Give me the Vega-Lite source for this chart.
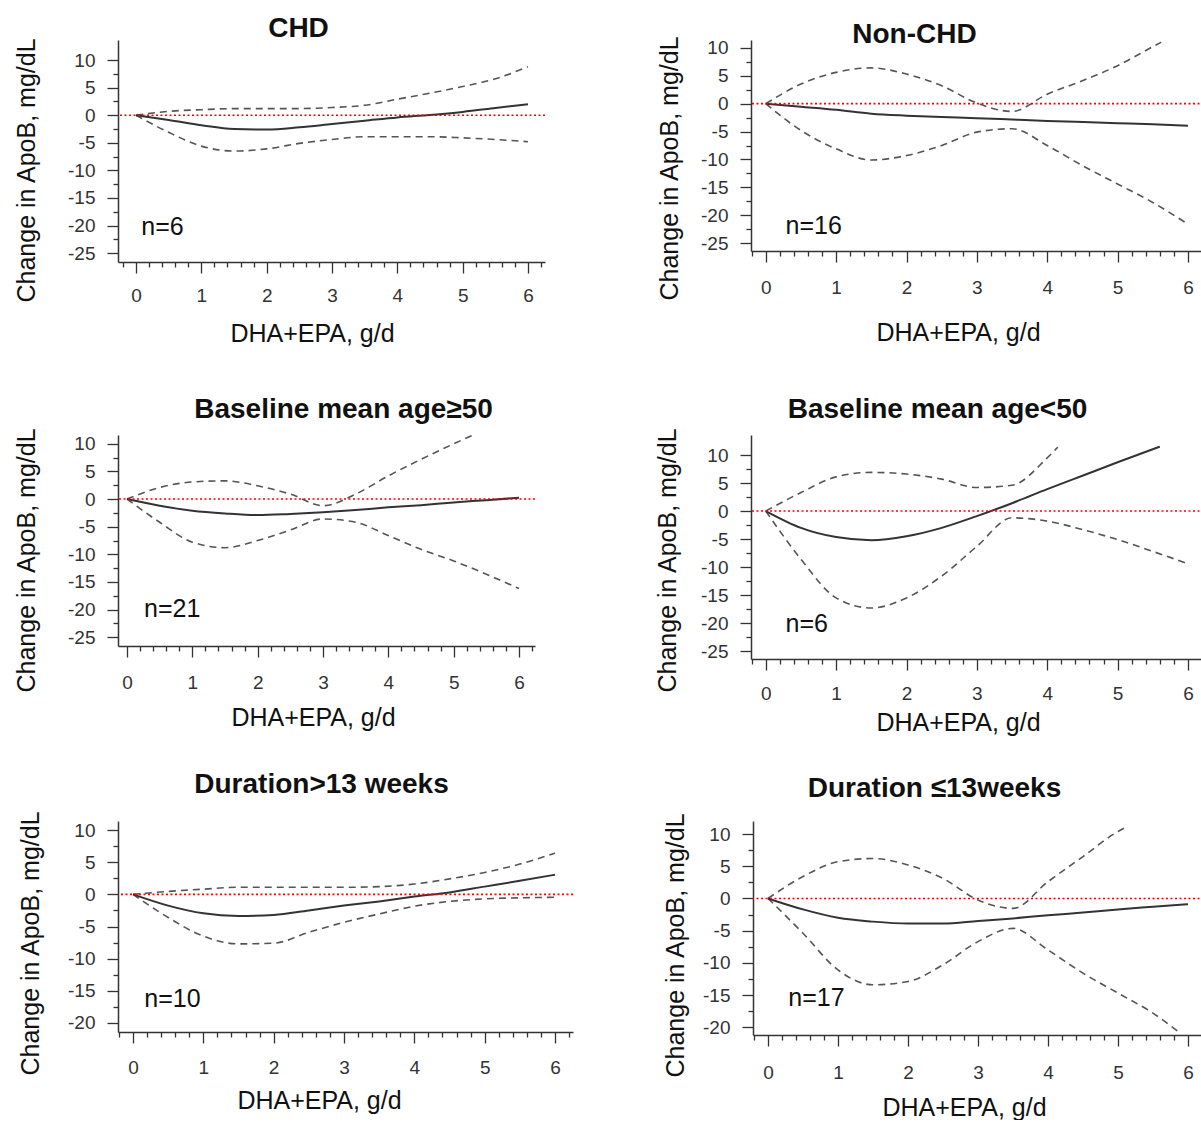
{
"$schema": "https://vega.github.io/schema/vega-lite/v6.json",
"background": "white",
"padding": {"left": 14, "top": 14, "right": 0, "bottom": 0},
"config": {
 "view": {"stroke": null},
 "font": "Liberation Sans",
 "axis": {"domainColor": "#333", "domainWidth": 1.5, "tickColor": "#333", "tickWidth": 1.3, "labelColor": "#333", "labelFontSize": 19, "labelFont": "Liberation Sans", "titleFont": "Liberation Sans", "titleFontSize": 25, "titleFontWeight": "normal", "titleColor": "#111", "grid": false, "labelOverlap": false, "labelFlush": false, "labelBound": false, "tickCount": 200},
 "title": {"font": "Liberation Sans", "fontSize": 28, "fontWeight": "bold", "color": "#111", "frame": "group", "anchor": "middle"}
},
"datasets": {"curves": [
{"p":"chd","s":"est","x":0,"v":0},{"p":"chd","s":"est","x":0.5,"v":-0.85},{"p":"chd","s":"est","x":1,"v":-1.8},{"p":"chd","s":"est","x":1.5,"v":-2.5},{"p":"chd","s":"est","x":2,"v":-2.6},{"p":"chd","s":"est","x":2.5,"v":-2.2},{"p":"chd","s":"est","x":3,"v":-1.6},{"p":"chd","s":"est","x":3.5,"v":-1.0},{"p":"chd","s":"est","x":4,"v":-0.4},{"p":"chd","s":"est","x":4.5,"v":0.05},{"p":"chd","s":"est","x":5,"v":0.6},{"p":"chd","s":"est","x":5.5,"v":1.3},{"p":"chd","s":"est","x":6,"v":2.0},
{"p":"chd","s":"hi","x":0,"v":0},{"p":"chd","s":"hi","x":0.5,"v":0.7},{"p":"chd","s":"hi","x":1,"v":1.0},{"p":"chd","s":"hi","x":1.5,"v":1.2},{"p":"chd","s":"hi","x":2,"v":1.2},{"p":"chd","s":"hi","x":2.5,"v":1.2},{"p":"chd","s":"hi","x":3,"v":1.4},{"p":"chd","s":"hi","x":3.5,"v":1.8},{"p":"chd","s":"hi","x":4,"v":2.9},{"p":"chd","s":"hi","x":4.5,"v":4.0},{"p":"chd","s":"hi","x":5,"v":5.2},{"p":"chd","s":"hi","x":5.5,"v":6.6},{"p":"chd","s":"hi","x":6,"v":8.8},
{"p":"chd","s":"lo","x":0,"v":0},{"p":"chd","s":"lo","x":0.5,"v":-3.1},{"p":"chd","s":"lo","x":1,"v":-5.6},{"p":"chd","s":"lo","x":1.5,"v":-6.5},{"p":"chd","s":"lo","x":2,"v":-6.1},{"p":"chd","s":"lo","x":2.5,"v":-5.1},{"p":"chd","s":"lo","x":3,"v":-4.4},{"p":"chd","s":"lo","x":3.5,"v":-3.9},{"p":"chd","s":"lo","x":4,"v":-3.9},{"p":"chd","s":"lo","x":4.5,"v":-3.9},{"p":"chd","s":"lo","x":5,"v":-4.1},{"p":"chd","s":"lo","x":5.5,"v":-4.4},{"p":"chd","s":"lo","x":6,"v":-4.8},
{"p":"nonchd","s":"est","x":0,"v":0},{"p":"nonchd","s":"est","x":0.5,"v":-0.55},{"p":"nonchd","s":"est","x":1,"v":-1.1},{"p":"nonchd","s":"est","x":1.5,"v":-1.8},{"p":"nonchd","s":"est","x":2,"v":-2.15},{"p":"nonchd","s":"est","x":2.5,"v":-2.4},{"p":"nonchd","s":"est","x":3,"v":-2.6},{"p":"nonchd","s":"est","x":3.5,"v":-2.85},{"p":"nonchd","s":"est","x":4,"v":-3.1},{"p":"nonchd","s":"est","x":4.5,"v":-3.3},{"p":"nonchd","s":"est","x":5,"v":-3.5},{"p":"nonchd","s":"est","x":5.5,"v":-3.7},{"p":"nonchd","s":"est","x":6,"v":-3.95},
{"p":"nonchd","s":"hi","x":0,"v":0},{"p":"nonchd","s":"hi","x":0.5,"v":3.5},{"p":"nonchd","s":"hi","x":1,"v":5.6},{"p":"nonchd","s":"hi","x":1.5,"v":6.4},{"p":"nonchd","s":"hi","x":2,"v":5.3},{"p":"nonchd","s":"hi","x":2.5,"v":3.2},{"p":"nonchd","s":"hi","x":3,"v":0.1},{"p":"nonchd","s":"hi","x":3.5,"v":-1.4},{"p":"nonchd","s":"hi","x":4,"v":1.7},{"p":"nonchd","s":"hi","x":4.5,"v":4.1},{"p":"nonchd","s":"hi","x":5,"v":6.8},{"p":"nonchd","s":"hi","x":5.5,"v":10.2},{"p":"nonchd","s":"hi","x":5.62,"v":11.0},
{"p":"nonchd","s":"lo","x":0,"v":0},{"p":"nonchd","s":"lo","x":0.5,"v":-4.8},{"p":"nonchd","s":"lo","x":1,"v":-8.1},{"p":"nonchd","s":"lo","x":1.5,"v":-10.1},{"p":"nonchd","s":"lo","x":2,"v":-9.3},{"p":"nonchd","s":"lo","x":2.5,"v":-7.5},{"p":"nonchd","s":"lo","x":3,"v":-5.1},{"p":"nonchd","s":"lo","x":3.5,"v":-4.5},{"p":"nonchd","s":"lo","x":4,"v":-7.5},{"p":"nonchd","s":"lo","x":4.5,"v":-11.1},{"p":"nonchd","s":"lo","x":5,"v":-14.4},{"p":"nonchd","s":"lo","x":5.5,"v":-17.7},{"p":"nonchd","s":"lo","x":6,"v":-21.6},
{"p":"age50p","s":"est","x":0,"v":0},{"p":"age50p","s":"est","x":0.5,"v":-1.2},{"p":"age50p","s":"est","x":1,"v":-2.1},{"p":"age50p","s":"est","x":1.5,"v":-2.6},{"p":"age50p","s":"est","x":2,"v":-2.9},{"p":"age50p","s":"est","x":2.5,"v":-2.7},{"p":"age50p","s":"est","x":3,"v":-2.4},{"p":"age50p","s":"est","x":3.5,"v":-2.0},{"p":"age50p","s":"est","x":4,"v":-1.5},{"p":"age50p","s":"est","x":4.5,"v":-1.1},{"p":"age50p","s":"est","x":5,"v":-0.6},{"p":"age50p","s":"est","x":5.5,"v":-0.2},{"p":"age50p","s":"est","x":6,"v":0.25},
{"p":"age50p","s":"hi","x":0,"v":0},{"p":"age50p","s":"hi","x":0.5,"v":2.1},{"p":"age50p","s":"hi","x":1,"v":3.1},{"p":"age50p","s":"hi","x":1.5,"v":3.3},{"p":"age50p","s":"hi","x":2,"v":2.4},{"p":"age50p","s":"hi","x":2.5,"v":0.9},{"p":"age50p","s":"hi","x":3,"v":-1.2},{"p":"age50p","s":"hi","x":3.5,"v":0.9},{"p":"age50p","s":"hi","x":4,"v":4.2},{"p":"age50p","s":"hi","x":4.5,"v":7.2},{"p":"age50p","s":"hi","x":5,"v":10.0},{"p":"age50p","s":"hi","x":5.3,"v":11.6},
{"p":"age50p","s":"lo","x":0,"v":0},{"p":"age50p","s":"lo","x":0.5,"v":-4.2},{"p":"age50p","s":"lo","x":1,"v":-7.8},{"p":"age50p","s":"lo","x":1.5,"v":-8.8},{"p":"age50p","s":"lo","x":2,"v":-7.5},{"p":"age50p","s":"lo","x":2.5,"v":-5.6},{"p":"age50p","s":"lo","x":3,"v":-3.6},{"p":"age50p","s":"lo","x":3.5,"v":-4.2},{"p":"age50p","s":"lo","x":4,"v":-6.6},{"p":"age50p","s":"lo","x":4.5,"v":-9.1},{"p":"age50p","s":"lo","x":5,"v":-11.2},{"p":"age50p","s":"lo","x":5.5,"v":-13.6},{"p":"age50p","s":"lo","x":6,"v":-16.2},
{"p":"age50m","s":"est","x":0,"v":0},{"p":"age50m","s":"est","x":0.5,"v":-3.0},{"p":"age50m","s":"est","x":1,"v":-4.65},{"p":"age50m","s":"est","x":1.5,"v":-5.2},{"p":"age50m","s":"est","x":2,"v":-4.5},{"p":"age50m","s":"est","x":2.5,"v":-3.0},{"p":"age50m","s":"est","x":3,"v":-0.9},{"p":"age50m","s":"est","x":3.5,"v":1.4},{"p":"age50m","s":"est","x":4,"v":3.9},{"p":"age50m","s":"est","x":4.5,"v":6.3},{"p":"age50m","s":"est","x":5,"v":8.7},{"p":"age50m","s":"est","x":5.6,"v":11.5},
{"p":"age50m","s":"hi","x":0,"v":0},{"p":"age50m","s":"hi","x":0.5,"v":3.3},{"p":"age50m","s":"hi","x":1,"v":6.1},{"p":"age50m","s":"hi","x":1.5,"v":6.9},{"p":"age50m","s":"hi","x":2,"v":6.6},{"p":"age50m","s":"hi","x":2.5,"v":5.7},{"p":"age50m","s":"hi","x":3,"v":4.2},{"p":"age50m","s":"hi","x":3.5,"v":4.6},{"p":"age50m","s":"hi","x":4,"v":9.5},{"p":"age50m","s":"hi","x":4.15,"v":11.4},
{"p":"age50m","s":"lo","x":0,"v":0},{"p":"age50m","s":"lo","x":0.5,"v":-8.6},{"p":"age50m","s":"lo","x":1,"v":-15.5},{"p":"age50m","s":"lo","x":1.5,"v":-17.3},{"p":"age50m","s":"lo","x":2,"v":-15.5},{"p":"age50m","s":"lo","x":2.5,"v":-11.6},{"p":"age50m","s":"lo","x":3,"v":-6.3},{"p":"age50m","s":"lo","x":3.5,"v":-1.2},{"p":"age50m","s":"lo","x":4,"v":-1.8},{"p":"age50m","s":"lo","x":4.5,"v":-3.3},{"p":"age50m","s":"lo","x":5,"v":-5.1},{"p":"age50m","s":"lo","x":5.5,"v":-7.2},{"p":"age50m","s":"lo","x":6,"v":-9.4},
{"p":"durgt","s":"est","x":0,"v":0},{"p":"durgt","s":"est","x":0.5,"v":-1.75},{"p":"durgt","s":"est","x":1,"v":-2.95},{"p":"durgt","s":"est","x":1.5,"v":-3.35},{"p":"durgt","s":"est","x":2,"v":-3.2},{"p":"durgt","s":"est","x":2.5,"v":-2.5},{"p":"durgt","s":"est","x":3,"v":-1.75},{"p":"durgt","s":"est","x":3.5,"v":-1.1},{"p":"durgt","s":"est","x":4,"v":-0.35},{"p":"durgt","s":"est","x":4.5,"v":0.3},{"p":"durgt","s":"est","x":5,"v":1.2},{"p":"durgt","s":"est","x":5.5,"v":2.1},{"p":"durgt","s":"est","x":6,"v":3.05},
{"p":"durgt","s":"hi","x":0,"v":0},{"p":"durgt","s":"hi","x":0.5,"v":0.45},{"p":"durgt","s":"hi","x":1,"v":0.8},{"p":"durgt","s":"hi","x":1.5,"v":1.1},{"p":"durgt","s":"hi","x":2,"v":1.1},{"p":"durgt","s":"hi","x":2.5,"v":1.1},{"p":"durgt","s":"hi","x":3,"v":1.1},{"p":"durgt","s":"hi","x":3.5,"v":1.2},{"p":"durgt","s":"hi","x":4,"v":1.6},{"p":"durgt","s":"hi","x":4.5,"v":2.4},{"p":"durgt","s":"hi","x":5,"v":3.4},{"p":"durgt","s":"hi","x":5.5,"v":4.7},{"p":"durgt","s":"hi","x":6,"v":6.4},
{"p":"durgt","s":"lo","x":0,"v":0},{"p":"durgt","s":"lo","x":0.5,"v":-3.6},{"p":"durgt","s":"lo","x":1,"v":-6.5},{"p":"durgt","s":"lo","x":1.5,"v":-7.7},{"p":"durgt","s":"lo","x":2,"v":-7.6},{"p":"durgt","s":"lo","x":2.5,"v":-5.9},{"p":"durgt","s":"lo","x":3,"v":-4.35},{"p":"durgt","s":"lo","x":3.5,"v":-3.05},{"p":"durgt","s":"lo","x":4,"v":-1.85},{"p":"durgt","s":"lo","x":4.5,"v":-1.1},{"p":"durgt","s":"lo","x":5,"v":-0.7},{"p":"durgt","s":"lo","x":5.5,"v":-0.55},{"p":"durgt","s":"lo","x":6,"v":-0.45},
{"p":"durle","s":"est","x":0,"v":0},{"p":"durle","s":"est","x":0.5,"v":-1.7},{"p":"durle","s":"est","x":1,"v":-3.0},{"p":"durle","s":"est","x":1.5,"v":-3.6},{"p":"durle","s":"est","x":2,"v":-3.9},{"p":"durle","s":"est","x":2.5,"v":-3.9},{"p":"durle","s":"est","x":3,"v":-3.5},{"p":"durle","s":"est","x":3.5,"v":-3.1},{"p":"durle","s":"est","x":4,"v":-2.6},{"p":"durle","s":"est","x":4.5,"v":-2.2},{"p":"durle","s":"est","x":5,"v":-1.7},{"p":"durle","s":"est","x":5.5,"v":-1.3},{"p":"durle","s":"est","x":6,"v":-0.9},
{"p":"durle","s":"hi","x":0,"v":0},{"p":"durle","s":"hi","x":0.5,"v":3.4},{"p":"durle","s":"hi","x":1,"v":5.7},{"p":"durle","s":"hi","x":1.5,"v":6.2},{"p":"durle","s":"hi","x":2,"v":5.2},{"p":"durle","s":"hi","x":2.5,"v":3.1},{"p":"durle","s":"hi","x":3,"v":-0.25},{"p":"durle","s":"hi","x":3.5,"v":-1.55},{"p":"durle","s":"hi","x":4,"v":2.6},{"p":"durle","s":"hi","x":4.5,"v":6.5},{"p":"durle","s":"hi","x":5,"v":10.4},{"p":"durle","s":"hi","x":5.12,"v":11.1},
{"p":"durle","s":"lo","x":0,"v":0},{"p":"durle","s":"lo","x":0.5,"v":-5.4},{"p":"durle","s":"lo","x":1,"v":-11.1},{"p":"durle","s":"lo","x":1.5,"v":-13.4},{"p":"durle","s":"lo","x":2,"v":-12.9},{"p":"durle","s":"lo","x":2.5,"v":-10.3},{"p":"durle","s":"lo","x":3,"v":-6.7},{"p":"durle","s":"lo","x":3.5,"v":-4.65},{"p":"durle","s":"lo","x":4,"v":-8.0},{"p":"durle","s":"lo","x":4.5,"v":-11.6},{"p":"durle","s":"lo","x":5,"v":-14.7},{"p":"durle","s":"lo","x":5.5,"v":-17.8},{"p":"durle","s":"lo","x":5.9,"v":-21.0}
]},
"spacing": 49,
"vconcat": [
{"spacing": 111, "hconcat": [
 {"width": 427, "height": 222, "title": {"text": "CHD", "dx": -33, "offset": -5.5},
  "layer": [
   {"data": {"name": "curves"}, "transform": [{"filter": "datum.p==='chd' && datum.s!=='est'"}], "mark": {"type": "line", "color": "#555", "strokeWidth": 1.6, "strokeDash": [7,5], "interpolate": "monotone", "clip": true},
    "encoding": {"x": {"field": "x", "type": "quantitative", "scale": {"domain": [-0.276, 6.26], "nice": false, "zero": false},
      "axis": {"title": "DHA+EPA, g/d", "titleX": 194, "titlePadding": 16, "labelPadding": 13, "values": [-0.2,0,0.2,0.4,0.6,0.8,1,1.2,1.4,1.6,1.8,2,2.2,2.4,2.6,2.8,3,3.2,3.4,3.6,3.8,4,4.2,4.4,4.6,4.8,5,5.2,5.4,5.6,5.8,6,6.2], "labelExpr": "abs(datum.value-round(datum.value))<0.01 ? ''+round(datum.value) : ''", "tickSize": {"condition": {"test": "abs(datum.value-round(datum.value))<0.01", "value": 11}, "value": 5}}},
     "y": {"field": "v", "type": "quantitative", "scale": {"domain": [-26.6, 13.63], "nice": false, "zero": false},
      "axis": {"title": "Change in ApoB, mg/dL", "titleY": 130, "titlePadding": 28, "labelPadding": 12, "values": [-25,-22.5,-20,-17.5,-15,-12.5,-10,-7.5,-5,-2.5,0,2.5,5,7.5,10], "labelExpr": "abs(datum.value%5)<0.01 ? ''+datum.value : ''", "tickSize": {"condition": {"test": "abs(datum.value%5)<0.01", "value": 11}, "value": 5}}},
     "detail": {"field": "s"}}},
   {"data": {"name": "curves"}, "transform": [{"filter": "datum.p==='chd' && datum.s==='est'"}], "mark": {"type": "line", "color": "#333", "strokeWidth": 2, "interpolate": "monotone", "clip": true}, "encoding": {"x": {"field": "x", "type": "quantitative"}, "y": {"field": "v", "type": "quantitative"}}},
   {"data": {"values": [{"v": 0}]}, "mark": {"type": "rule", "color": "#ff0000", "strokeWidth": 1.6, "strokeDash": [2, 2.5]}, "encoding": {"y": {"field": "v", "type": "quantitative"}}},
   {"data": {"values": [{"x": 0.08, "v": -20.3, "t": "n=6"}]}, "mark": {"type": "text", "align": "left", "baseline": "middle", "fontSize": 25, "color": "#111"}, "encoding": {"x": {"field": "x", "type": "quantitative"}, "y": {"field": "v", "type": "quantitative"}, "text": {"field": "t"}}}
  ]},
 {"width": 453, "height": 211, "title": {"text": "Non-CHD", "dx": -63, "offset": -13.5},
  "layer": [
   {"data": {"name": "curves"}, "transform": [{"filter": "datum.p==='nonchd' && datum.s!=='est'"}], "mark": {"type": "line", "color": "#555", "strokeWidth": 1.6, "strokeDash": [7,5], "interpolate": "monotone", "clip": true},
    "encoding": {"x": {"field": "x", "type": "quantitative", "scale": {"domain": [-0.21, 6.228], "nice": false, "zero": false},
      "axis": {"title": "DHA+EPA, g/d", "titleX": 207, "titlePadding": 23, "labelPadding": 16, "values": [-0.2,0,0.2,0.4,0.6,0.8,1,1.2,1.4,1.6,1.8,2,2.2,2.4,2.6,2.8,3,3.2,3.4,3.6,3.8,4,4.2,4.4,4.6,4.8,5,5.2,5.4,5.6,5.8,6,6.2], "labelExpr": "abs(datum.value-round(datum.value))<0.01 ? ''+round(datum.value) : ''", "tickSize": {"condition": {"test": "abs(datum.value-round(datum.value))<0.01", "value": 11}, "value": 5}}},
     "y": {"field": "v", "type": "quantitative", "scale": {"domain": [-26.4, 11.4], "nice": false, "zero": false},
      "axis": {"title": "Change in ApoB, mg/dL", "titleY": 128, "titlePadding": 18, "labelPadding": 12, "values": [-25,-22.5,-20,-17.5,-15,-12.5,-10,-7.5,-5,-2.5,0,2.5,5,7.5,10], "labelExpr": "abs(datum.value%5)<0.01 ? ''+datum.value : ''", "tickSize": {"condition": {"test": "abs(datum.value%5)<0.01", "value": 11}, "value": 5}}},
     "detail": {"field": "s"}}},
   {"data": {"name": "curves"}, "transform": [{"filter": "datum.p==='nonchd' && datum.s==='est'"}], "mark": {"type": "line", "color": "#333", "strokeWidth": 2, "interpolate": "monotone", "clip": true}, "encoding": {"x": {"field": "x", "type": "quantitative"}, "y": {"field": "v", "type": "quantitative"}}},
   {"data": {"values": [{"v": 0}]}, "mark": {"type": "rule", "color": "#ff0000", "strokeWidth": 1.6, "strokeDash": [2, 2.5]}, "encoding": {"y": {"field": "v", "type": "quantitative"}}},
   {"data": {"values": [{"x": 0.28, "v": -21.9, "t": "n=16"}]}, "mark": {"type": "text", "align": "left", "baseline": "middle", "fontSize": 25, "color": "#111"}, "encoding": {"x": {"field": "x", "type": "quantitative"}, "y": {"field": "v", "type": "quantitative"}, "text": {"field": "t"}}}
  ]}
]},
{"spacing": 35, "vconcat": [
{"spacing": 119, "hconcat": [
 {"width": 417, "height": 211, "title": {"text": "Baseline mean age≥50", "dx": 17, "offset": 3.5},
  "layer": [
   {"data": {"name": "curves"}, "transform": [{"filter": "datum.p==='age50p' && datum.s!=='est'"}], "mark": {"type": "line", "color": "#555", "strokeWidth": 1.6, "strokeDash": [7,5], "interpolate": "monotone", "clip": true},
    "encoding": {"x": {"field": "x", "type": "quantitative", "scale": {"domain": [-0.138, 6.245], "nice": false, "zero": false},
      "axis": {"title": "DHA+EPA, g/d", "titleX": 195, "titlePadding": 13, "labelPadding": 16, "values": [0,0.2,0.4,0.6,0.8,1,1.2,1.4,1.6,1.8,2,2.2,2.4,2.6,2.8,3,3.2,3.4,3.6,3.8,4,4.2,4.4,4.6,4.8,5,5.2,5.4,5.6,5.8,6,6.2], "labelExpr": "abs(datum.value-round(datum.value))<0.01 ? ''+round(datum.value) : ''", "tickSize": {"condition": {"test": "abs(datum.value-round(datum.value))<0.01", "value": 11}, "value": 5}}},
     "y": {"field": "v", "type": "quantitative", "scale": {"domain": [-26.6, 11.6], "nice": false, "zero": false},
      "axis": {"title": "Change in ApoB, mg/dL", "titleY": 125, "titlePadding": 28, "labelPadding": 12, "values": [-25,-22.5,-20,-17.5,-15,-12.5,-10,-7.5,-5,-2.5,0,2.5,5,7.5,10], "labelExpr": "abs(datum.value%5)<0.01 ? ''+datum.value : ''", "tickSize": {"condition": {"test": "abs(datum.value%5)<0.01", "value": 11}, "value": 5}}},
     "detail": {"field": "s"}}},
   {"data": {"name": "curves"}, "transform": [{"filter": "datum.p==='age50p' && datum.s==='est'"}], "mark": {"type": "line", "color": "#333", "strokeWidth": 2, "interpolate": "monotone", "clip": true}, "encoding": {"x": {"field": "x", "type": "quantitative"}, "y": {"field": "v", "type": "quantitative"}}},
   {"data": {"values": [{"v": 0}]}, "mark": {"type": "rule", "color": "#ff0000", "strokeWidth": 1.6, "strokeDash": [2, 2.5]}, "encoding": {"y": {"field": "v", "type": "quantitative"}}},
   {"data": {"values": [{"x": 0.26, "v": -19.9, "t": "n=21"}]}, "mark": {"type": "text", "align": "left", "baseline": "middle", "fontSize": 25, "color": "#111"}, "encoding": {"x": {"field": "x", "type": "quantitative"}, "y": {"field": "v", "type": "quantitative"}, "text": {"field": "t"}}}
  ]},
 {"width": 453, "height": 224, "title": {"text": "Baseline mean age<50", "dx": -40, "offset": 3.5},
  "layer": [
   {"data": {"name": "curves"}, "transform": [{"filter": "datum.p==='age50m' && datum.s!=='est'"}], "mark": {"type": "line", "color": "#555", "strokeWidth": 1.6, "strokeDash": [7,5], "interpolate": "monotone", "clip": true},
    "encoding": {"x": {"field": "x", "type": "quantitative", "scale": {"domain": [-0.21, 6.228], "nice": false, "zero": false},
      "axis": {"title": "DHA+EPA, g/d", "titleX": 207, "titlePadding": 7, "labelPadding": 14, "values": [-0.2,0,0.2,0.4,0.6,0.8,1,1.2,1.4,1.6,1.8,2,2.2,2.4,2.6,2.8,3,3.2,3.4,3.6,3.8,4,4.2,4.4,4.6,4.8,5,5.2,5.4,5.6,5.8,6,6.2], "labelExpr": "abs(datum.value-round(datum.value))<0.01 ? ''+round(datum.value) : ''", "tickSize": {"condition": {"test": "abs(datum.value-round(datum.value))<0.01", "value": 11}, "value": 5}}},
     "y": {"field": "v", "type": "quantitative", "scale": {"domain": [-26.4, 13.57], "nice": false, "zero": false},
      "axis": {"title": "Change in ApoB, mg/dL", "titleY": 125, "titlePadding": 20, "labelPadding": 12, "values": [-25,-22.5,-20,-17.5,-15,-12.5,-10,-7.5,-5,-2.5,0,2.5,5,7.5,10], "labelExpr": "abs(datum.value%5)<0.01 ? ''+datum.value : ''", "tickSize": {"condition": {"test": "abs(datum.value%5)<0.01", "value": 11}, "value": 5}}},
     "detail": {"field": "s"}}},
   {"data": {"name": "curves"}, "transform": [{"filter": "datum.p==='age50m' && datum.s==='est'"}], "mark": {"type": "line", "color": "#333", "strokeWidth": 2, "interpolate": "monotone", "clip": true}, "encoding": {"x": {"field": "x", "type": "quantitative"}, "y": {"field": "v", "type": "quantitative"}}},
   {"data": {"values": [{"v": 0}]}, "mark": {"type": "rule", "color": "#ff0000", "strokeWidth": 1.6, "strokeDash": [2, 2.5]}, "encoding": {"y": {"field": "v", "type": "quantitative"}}},
   {"data": {"values": [{"x": 0.28, "v": -20.2, "t": "n=6"}]}, "mark": {"type": "text", "align": "left", "baseline": "middle", "fontSize": 25, "color": "#111"}, "encoding": {"x": {"field": "x", "type": "quantitative"}, "y": {"field": "v", "type": "quantitative"}, "text": {"field": "t"}}}
  ]}
]},
{"spacing": 89, "hconcat": [
 {"width": 455, "height": 211, "title": {"text": "Duration>13 weeks", "dx": -24, "offset": 11.5},
  "layer": [
   {"data": {"name": "curves"}, "transform": [{"filter": "datum.p==='durgt' && datum.s!=='est'"}], "mark": {"type": "line", "color": "#555", "strokeWidth": 1.6, "strokeDash": [7,5], "interpolate": "monotone", "clip": true},
    "encoding": {"x": {"field": "x", "type": "quantitative", "scale": {"domain": [-0.213, 6.256], "nice": false, "zero": false},
      "axis": {"title": "DHA+EPA, g/d", "titleX": 201, "titlePadding": 11, "labelPadding": 15, "values": [-0.2,0,0.2,0.4,0.6,0.8,1,1.2,1.4,1.6,1.8,2,2.2,2.4,2.6,2.8,3,3.2,3.4,3.6,3.8,4,4.2,4.4,4.6,4.8,5,5.2,5.4,5.6,5.8,6,6.2], "labelExpr": "abs(datum.value-round(datum.value))<0.01 ? ''+round(datum.value) : ''", "tickSize": {"condition": {"test": "abs(datum.value-round(datum.value))<0.01", "value": 11}, "value": 5}}},
     "y": {"field": "v", "type": "quantitative", "scale": {"domain": [-21.4, 11.4], "nice": false, "zero": false},
      "axis": {"title": "Change in ApoB, mg/dL", "titleY": 122, "titlePadding": 24, "labelPadding": 12, "values": [-20,-17.5,-15,-12.5,-10,-7.5,-5,-2.5,0,2.5,5,7.5,10], "labelExpr": "abs(datum.value%5)<0.01 ? ''+datum.value : ''", "tickSize": {"condition": {"test": "abs(datum.value%5)<0.01", "value": 11}, "value": 5}}},
     "detail": {"field": "s"}}},
   {"data": {"name": "curves"}, "transform": [{"filter": "datum.p==='durgt' && datum.s==='est'"}], "mark": {"type": "line", "color": "#333", "strokeWidth": 2, "interpolate": "monotone", "clip": true}, "encoding": {"x": {"field": "x", "type": "quantitative"}, "y": {"field": "v", "type": "quantitative"}}},
   {"data": {"values": [{"v": 0}]}, "mark": {"type": "rule", "color": "#ff0000", "strokeWidth": 1.6, "strokeDash": [2, 2.5]}, "encoding": {"y": {"field": "v", "type": "quantitative"}}},
   {"data": {"values": [{"x": 0.16, "v": -16.2, "t": "n=10"}]}, "mark": {"type": "text", "align": "left", "baseline": "middle", "fontSize": 25, "color": "#111"}, "encoding": {"x": {"field": "x", "type": "quantitative"}, "y": {"field": "v", "type": "quantitative"}, "text": {"field": "t"}}}
  ]},
 {"width": 451, "height": 214, "title": {"text": "Duration ≤13weeks", "dx": -44, "offset": 9.5},
  "layer": [
   {"data": {"name": "curves"}, "transform": [{"filter": "datum.p==='durle' && datum.s!=='est'"}], "mark": {"type": "line", "color": "#555", "strokeWidth": 1.6, "strokeDash": [7,5], "interpolate": "monotone", "clip": true},
    "encoding": {"x": {"field": "x", "type": "quantitative", "scale": {"domain": [-0.214, 6.229], "nice": false, "zero": false},
      "axis": {"title": "DHA+EPA, g/d", "titleX": 211, "titlePadding": 13, "labelPadding": 17, "values": [-0.2,0,0.2,0.4,0.6,0.8,1,1.2,1.4,1.6,1.8,2,2.2,2.4,2.6,2.8,3,3.2,3.4,3.6,3.8,4,4.2,4.4,4.6,4.8,5,5.2,5.4,5.6,5.8,6,6.2], "labelExpr": "abs(datum.value-round(datum.value))<0.01 ? ''+round(datum.value) : ''", "tickSize": {"condition": {"test": "abs(datum.value-round(datum.value))<0.01", "value": 11}, "value": 5}}},
     "y": {"field": "v", "type": "quantitative", "scale": {"domain": [-21.2, 12.02], "nice": false, "zero": false},
      "axis": {"title": "Change in ApoB, mg/dL", "titleY": 124, "titlePadding": 14, "labelPadding": 12, "values": [-20,-17.5,-15,-12.5,-10,-7.5,-5,-2.5,0,2.5,5,7.5,10], "labelExpr": "abs(datum.value%5)<0.01 ? ''+datum.value : ''", "tickSize": {"condition": {"test": "abs(datum.value%5)<0.01", "value": 11}, "value": 5}}},
     "detail": {"field": "s"}}},
   {"data": {"name": "curves"}, "transform": [{"filter": "datum.p==='durle' && datum.s==='est'"}], "mark": {"type": "line", "color": "#333", "strokeWidth": 2, "interpolate": "monotone", "clip": true}, "encoding": {"x": {"field": "x", "type": "quantitative"}, "y": {"field": "v", "type": "quantitative"}}},
   {"data": {"values": [{"v": 0}]}, "mark": {"type": "rule", "color": "#ff0000", "strokeWidth": 1.6, "strokeDash": [2, 2.5]}, "encoding": {"y": {"field": "v", "type": "quantitative"}}},
   {"data": {"values": [{"x": 0.29, "v": -15.4, "t": "n=17"}]}, "mark": {"type": "text", "align": "left", "baseline": "middle", "fontSize": 25, "color": "#111"}, "encoding": {"x": {"field": "x", "type": "quantitative"}, "y": {"field": "v", "type": "quantitative"}, "text": {"field": "t"}}}
  ]}
]}
]}
]
}
